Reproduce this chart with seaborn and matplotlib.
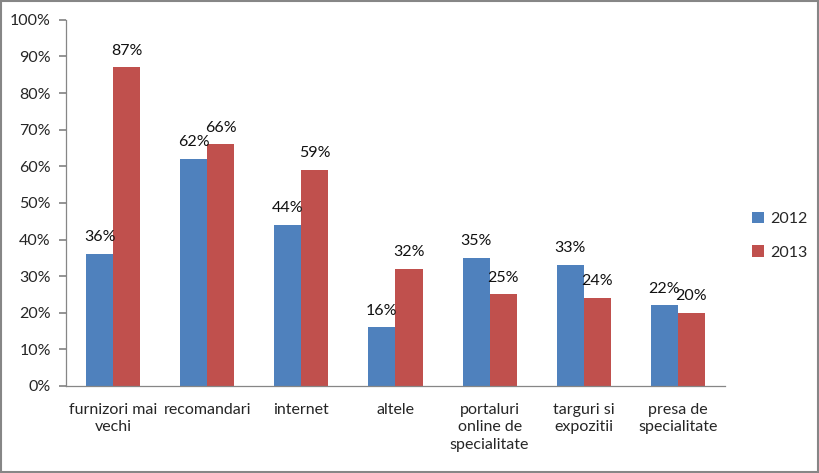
import matplotlib
matplotlib.use("Agg")
import matplotlib.pyplot as plt
import numpy as np
import pandas as pd
import seaborn as sns

categories = ["furnizori mai\nvechi", "recomandari", "internet", "altele",
              "portaluri\nonline de\nspecialitate", "targuri si\nexpozitii",
              "presa de\nspecialitate"]
values_2012 = [36, 62, 44, 16, 35, 33, 22]
values_2013 = [87, 66, 59, 32, 25, 24, 20]
years = ["2012", "2013"]
colors = ["#4F81BD", "#C0504D"]

df = pd.DataFrame({
    "categorie": categories * 2,
    "an": [years[0]] * len(categories) + [years[1]] * len(categories),
    "valoare": values_2012 + values_2013,
})

sns.set_theme(style="white")
plt.rcParams["font.family"] = ["Lato", "DejaVu Sans"]

fig = plt.figure(figsize=(8.2, 4.73), dpi=100)
ax = fig.add_axes([0.0805, 0.184, 0.8035, 0.774])

sns.barplot(data=df, x="categorie", y="valoare", hue="an", palette=colors,
            order=categories, hue_order=years, width=0.575, saturation=1,
            linewidth=0, ax=ax, legend=True)

for cont in ax.containers:
    ax.bar_label(cont, labels=[f"{v:.0f}%" for v in cont.datavalues],
                 padding=7, fontsize=11.5, color="#111111")

ax.set_xlim(-0.5, len(categories) - 0.5)
ax.set_ylim(0, 100)
ax.set_yticks(range(0, 101, 10))
ax.set_yticklabels([f"{t}%" for t in range(0, 101, 10)], fontsize=11.5)
ax.set_xlabel("")
ax.set_ylabel("")
ax.tick_params(axis="x", which="major", length=0, labelsize=11.5, pad=12)
ax.set_xticks(np.arange(-0.5, len(categories)), minor=True)
ax.tick_params(axis="x", which="minor", length=5, color="#868686", direction="out")
ax.tick_params(axis="y", length=5, color="#868686", direction="out", left=True, pad=6)
for lbl in ax.get_xticklabels():
    lbl.set_verticalalignment("top")
    lbl.set_linespacing(1.35)

for side in ["top", "right"]:
    ax.spines[side].set_visible(False)
for side in ["left", "bottom"]:
    ax.spines[side].set_color("#868686")
    ax.spines[side].set_linewidth(0.9)

ax.legend(loc="center left", bbox_to_anchor=(1.02, 0.41), frameon=False,
          fontsize=11.5, handlelength=0.7, handleheight=0.7, labelspacing=1.2,
          handletextpad=0.4)

fig.patches.append(plt.Rectangle((0.001, 0.002), 0.997, 0.995, transform=fig.transFigure,
                                 fill=False, edgecolor="#868686", linewidth=1.5))

fig.savefig("out.png", dpi=100)
